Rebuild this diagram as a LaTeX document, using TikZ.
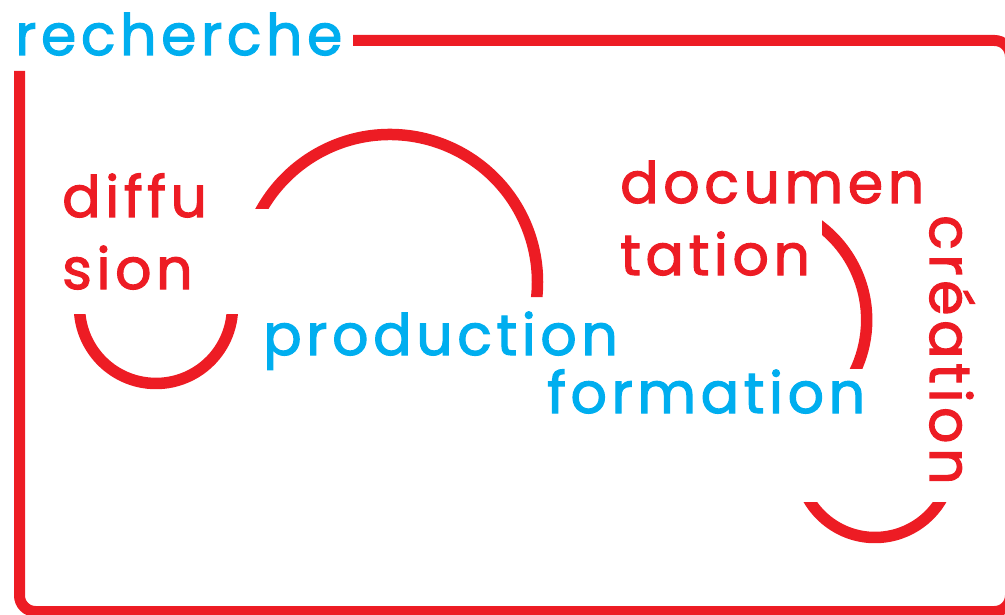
\documentclass[tikz,border=0pt]{standalone}
\usepackage{fontspec}
\newfontfamily\wordfont{Poppins}[LetterSpace=8, FakeBold=2]
\definecolor{myred}{HTML}{ED1C24}
\definecolor{mycyan}{HTML}{00AEEF}
\begin{document}
\begin{tikzpicture}[x=1pt,y=1pt,
  word/.style={anchor=base west, inner sep=0pt, font=\wordfont\fontsize{57}{60}\selectfont},
  redword/.style={word, text=myred},
  blueword/.style={word, text=mycyan},
  arcline/.style={draw=myred, line width=11.5pt, line cap=butt},
  frameline/.style={draw=myred, line width=11pt, rounded corners=16pt, line cap=butt}]
\useasboundingbox (0,0) rectangle (1005,-615);
\clip (0,0) rectangle (1005,-615);
% frame
\draw[frameline] (353,-40.5) -- (1010.5,-40.5) -- (1010.5,-611.5) -- (19.5,-611.5) -- (19.5,-71);
% diffusion arc
\begin{scope}
\clip (0,-314) rectangle (300,-420);
\draw[arcline] (156,-307) ++(170:76.5) arc[start angle=170,end angle=370,radius=76.5];
\end{scope}
% production arc
\begin{scope}
\clip (200,-100) -- (600,-100) -- (600,-297) -- (390,-297) -- (390,-209) -- (200,-209) -- cycle;
\draw[arcline] (390,-282) ++(170:147.5) arc[start angle=170,end angle=-20,radius=147.5];
\end{scope}
% documentation arc
\begin{scope}
\clip (822,-200) rectangle (900,-368);
\draw[arcline] (748.7,-320) ++(65:118) arc[start angle=65,end angle=-40,radius=118];
\end{scope}
% creation arc
\begin{scope}
\clip (780,-502) rectangle (980,-560);
\draw[arcline] (875,-460.7) ++(190:76.8) arc[start angle=190,end angle=350,radius=76.8];
\end{scope}
% words
\node[blueword] (recherche) at (15,-55) {recherche};
\node[redword] (diffu) at (62,-217) {diffu};
\node[redword] (sion) at (62,-289) {sion};
\node[blueword] (production) at (263,-355) {production};
\node[redword] (documen) at (620,-203) {documen};
\node[redword] (tation) at (620,-275) {tation};
\node[blueword] (formation) at (547,-413) {formation};
\node[redword, rotate=-90] (creation) at (930,-215) {création};
\end{tikzpicture}
\end{document}
